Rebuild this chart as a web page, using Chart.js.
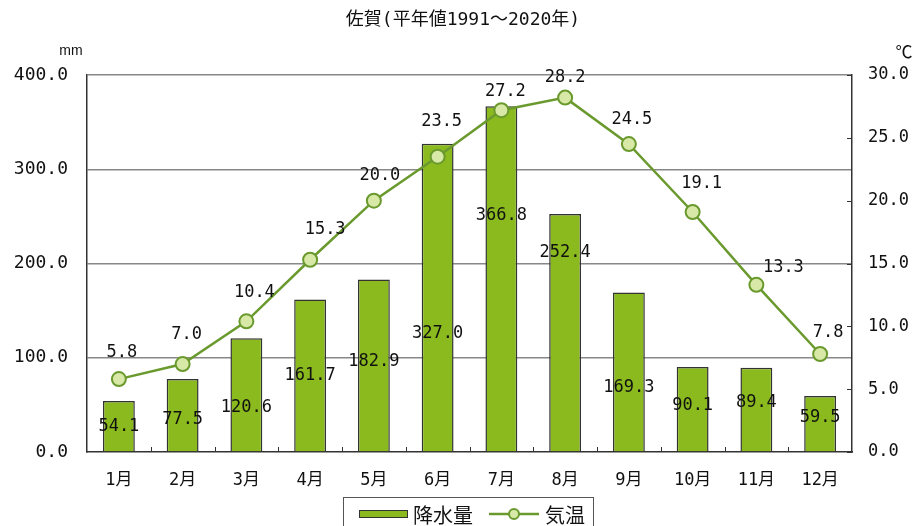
<!DOCTYPE html>
<html><head><meta charset="utf-8">
<script src="https://cdn.jsdelivr.net/npm/chart.js@4.4.0/dist/chart.umd.min.js"></script>
<style>html,body{margin:0;padding:0;background:#fff}#wrap{width:914px;height:526px}</style>
</head><body><div id="wrap"><canvas id="c" width="914" height="526"></canvas></div>
<script>
// ---- data ----
const chartTitle = '佐賀(平年値1991～2020年)';
const months = ['1月','2月','3月','4月','5月','6月','7月','8月','9月','10月','11月','12月'];
const precipitation = [54.1, 77.5, 120.6, 161.7, 182.9, 327.0, 366.8, 252.4, 169.3, 90.1, 89.4, 59.5];
const temperature = [5.8, 7.0, 10.4, 15.3, 20.0, 23.5, 27.2, 28.2, 24.5, 19.1, 13.3, 7.8];
const rainTicks = [0, 100, 200, 300, 400];
const tempTicks = [0, 5, 10, 15, 20, 25, 30];
const seriesNames = ['降水量', '気温'];
const rainUnit = 'mm';
const tempUnit = '℃';

// ---- label placement (style, in axis units / pixel offsets) ----
const rainLabelAt = [26.5, 34, 46.7, 80.6, 95.5, 126, 251, 212, 68, 49, 52, 36];
const tempLabelOffset = [[3,-27],[4,-29],[8,-29],[15,-30],[6,-25],[4,-35],[4,-19],[0,-20],[3,-25],[9,-28],[27,-17],[8,-21]];

const FONT = "'DejaVu Sans Mono', 'Noto Sans CJK JP', sans-serif";
const CJK = "'Noto Sans CJK JP', sans-serif";
const BAR = '#8aba1e', LINE = '#6a9a2e', PT = '#d8e8a6', AX = '#333333';

const decor = {
  id: 'decor',
  afterDatasetsDraw(chart) {
    const ctx = chart.ctx;
    const ys = chart.scales.y;
    ctx.save();
    ctx.fillStyle = '#111';
    ctx.font = '17px ' + FONT;
    ctx.textAlign = 'center';
    ctx.textBaseline = 'middle';
    const barMeta = chart.getDatasetMeta(0), lineMeta = chart.getDatasetMeta(1);
    barMeta.data.forEach((el, i) => {
      ctx.fillText(precipitation[i].toFixed(1), el.x, ys.getPixelForValue(rainLabelAt[i]));
    });
    lineMeta.data.forEach((el, i) => {
      const o = tempLabelOffset[i];
      ctx.fillText(temperature[i].toFixed(1), el.x + o[0], el.y + o[1]);
    });
    ctx.restore();
  },
  afterDraw(chart) {
    const ctx = chart.ctx;
    const y1 = chart.scales.y1;
    const ca = chart.chartArea;
    ctx.save();
    // inward tick marks
    ctx.strokeStyle = AX; ctx.lineWidth = 1;
    const n = months.length, step = (ca.right - ca.left) / n;
    ctx.beginPath();
    for (let i = 1; i < n; i++) {
      const x = Math.round(ca.left + i * step) + 0.5;
      ctx.moveTo(x, ca.bottom); ctx.lineTo(x, ca.bottom - 5);
    }
    tempTicks.forEach(v => {
      const y = Math.round(y1.getPixelForValue(v)) + 0.5;
      ctx.moveTo(ca.right, y); ctx.lineTo(ca.right - 5, y);
    });
    ctx.stroke();
    // title
    ctx.fillStyle = '#111';
    ctx.textAlign = 'center'; ctx.textBaseline = 'middle';
    ctx.font = '18px ' + FONT;
    ctx.fillText(chartTitle, 463, 20);
    // units
    ctx.font = '14px ' + "'Liberation Sans', sans-serif";
    ctx.fillText(rainUnit, 71, 51);
    ctx.font = '17px ' + CJK;
    ctx.fillText(tempUnit, 904, 52);
    // legend
    ctx.strokeStyle = '#555'; ctx.lineWidth = 1;
    ctx.strokeRect(343.5, 497.5, 250, 34);
    ctx.fillStyle = BAR; ctx.fillRect(359, 510, 49, 8);
    ctx.strokeStyle = AX; ctx.strokeRect(359.5, 510.5, 48, 7);
    ctx.fillStyle = '#111'; ctx.textAlign = 'left';
    ctx.font = '20px ' + CJK;
    ctx.fillText(seriesNames[0], 413, 515);
    ctx.strokeStyle = LINE; ctx.lineWidth = 2.5;
    ctx.beginPath(); ctx.moveTo(489, 514); ctx.lineTo(539, 514); ctx.stroke();
    ctx.beginPath(); ctx.arc(514, 514, 5, 0, Math.PI * 2);
    ctx.fillStyle = PT; ctx.fill(); ctx.lineWidth = 2; ctx.stroke();
    ctx.fillStyle = '#111';
    ctx.fillText(seriesNames[1], 545, 515);
    ctx.restore();
  }
};

new Chart(document.getElementById('c'), {
  data: {
    labels: months,
    datasets: [
      { type: 'bar', label: seriesNames[0], data: precipitation, yAxisID: 'y', order: 1,
        backgroundColor: BAR, borderColor: AX, borderWidth: 1.5,
        barPercentage: 0.5, categoryPercentage: 1.0 },
      { type: 'line', label: seriesNames[1], data: temperature, yAxisID: 'y1', order: 0,
        borderColor: LINE, borderWidth: 2.5, tension: 0,
        pointRadius: 7, pointHoverRadius: 7, pointBackgroundColor: PT,
        pointBorderColor: LINE, pointBorderWidth: 2 }
    ]
  },
  options: {
    responsive: false, animation: false, devicePixelRatio: 1,
    layout: { padding: { top: 75, bottom: 34, left: 0, right: 0 } },
    plugins: { legend: { display: false }, tooltip: { enabled: false }, title: { display: false } },
    scales: {
      x: {
        offset: true,
        grid: { display: false },
        border: { display: true, color: AX, width: 1.5 },
        ticks: { color: '#111', font: { size: 17, family: FONT }, padding: 10, maxRotation: 0 },
        afterFit: s => { s.height = 40; }
      },
      y: {
        position: 'left', min: 0, max: 400,
        afterBuildTicks: s => { s.ticks = rainTicks.map(v => ({ value: v })); },
        ticks: { color: '#111', font: { size: 18, family: FONT }, padding: 19, callback: v => Number(v).toFixed(1) },
        grid: { drawTicks: false, color: c => (c.tick && c.tick.value === 0) ? 'rgba(0,0,0,0)' : '#888', lineWidth: 1.5 },
        border: { display: true, color: AX, width: 1.5 },
        afterFit: s => { s.width = 87; }
      },
      y1: {
        position: 'right', min: 0, max: 30,
        afterBuildTicks: s => { s.ticks = tempTicks.map(v => ({ value: v })); },
        ticks: { color: '#111', font: { size: 17, family: FONT }, padding: 16, callback: v => Number(v).toFixed(1) },
        grid: { display: false, drawTicks: false },
        border: { display: true, color: AX, width: 1.5 },
        afterFit: s => { s.width = 62; }
      }
    }
  },
  plugins: [decor]
});
</script></body></html>
